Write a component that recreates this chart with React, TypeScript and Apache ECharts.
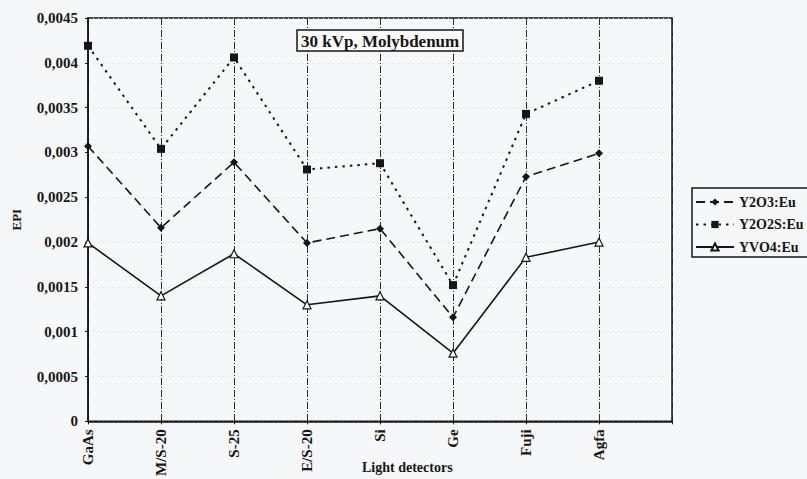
import React, { useEffect, useRef } from "react";
import * as echarts from "echarts";

const categories = ["GaAs", "M/S-20", "S-25", "E/S-20", "Si", "Ge", "Fuji", "Agfa", ""];
const y2o3 = [0.00307, 0.00216, 0.00289, 0.00199, 0.00215, 0.00116, 0.00273, 0.00299];
const y2o2s = [0.00419, 0.00304, 0.00406, 0.00281, 0.00288, 0.00152, 0.00343, 0.0038];
const yvo4 = [0.00199, 0.0014, 0.00187, 0.0013, 0.0014, 0.00076, 0.00183, 0.002];
const seriesNames = ["Y2O3:Eu", "Y2O2S:Eu", "YVO4:Eu"];

const FONT = "'Liberation Serif', 'DejaVu Serif', serif";
const INK = "#161616";

export default function App() {
  const ref = useRef<HTMLDivElement>(null);
  useEffect(() => {
    if (!ref.current) return;
    const chart = echarts.init(ref.current, undefined, { renderer: "svg" });
    chart.setOption({
      animation: false,
      backgroundColor: "#f6f7f9",
      textStyle: { fontFamily: FONT },
      title: {
        text: "30 kVp, Molybdenum",
        left: 297,
        top: 30,
        padding: [3, 4, 1, 4],
        borderColor: INK,
        borderWidth: 1.5,
        backgroundColor: "#fafafa",
        textStyle: { fontFamily: FONT, fontWeight: "bold", fontSize: 17, color: INK },
      },
      legend: {
        orient: "vertical",
        left: 692,
        top: 194,
        padding: [0, 0, 0, 3],
        itemGap: 6.5,
        itemWidth: 38,
        itemHeight: 9,
        data: seriesNames,
        textStyle: { fontFamily: FONT, fontWeight: "bold", fontSize: 14, color: INK, lineHeight: 16 },
      },
      grid: {
        left: 88,
        right: 135,
        top: 18,
        bottom: 57,
        show: true,
        borderColor: INK,
        borderWidth: 1.5,
        backgroundColor: "transparent",
      },
      xAxis: {
        type: "category",
        data: categories,
        boundaryGap: false,
        axisLine: { show: true, lineStyle: { color: INK, width: 1.5 } },
        axisTick: { show: true, length: 3, lineStyle: { color: INK } },
        axisLabel: {
          rotate: 90,
          margin: 8,
          interval: 0,
          fontFamily: FONT,
          fontWeight: "bold",
          fontSize: 15,
          color: INK,
        },
        splitLine: { show: true, interval: 0, lineStyle: { color: "#2a2a2a", width: 1, type: [7, 2, 1, 2] } },
      },
      yAxis: {
        type: "value",
        min: 0,
        max: 0.0045,
        interval: 0.0005,
        name: "EPI",
        nameLocation: "middle",
        nameGap: 65,
        nameTextStyle: { fontFamily: FONT, fontWeight: "bold", fontSize: 13, color: INK },
        axisLine: { show: true, lineStyle: { color: INK, width: 1.5 } },
        axisTick: { show: true, length: 3, lineStyle: { color: INK } },
        axisLabel: {
          margin: 10,
          fontFamily: FONT,
          fontWeight: "bold",
          fontSize: 15,
          color: INK,
          formatter: (v: number) => (v === 0 ? "0" : String(parseFloat(v.toFixed(4))).replace(".", ",")),
        },
        splitLine: { show: true, lineStyle: { color: "#d4d6da", width: 1, type: [1, 4] } },
      },
      graphic: [
        {
          type: "rect",
          shape: { x: 692, y: 188, width: 140, height: 69 },
          style: { fill: "none", stroke: INK, lineWidth: 1.5 },
          silent: true,
        },
        {
          type: "text",
          left: 362,
          top: 460,
          style: { text: "Light detectors", font: `bold 14px ${FONT}`, fill: INK },
        },
      ],
      series: [
        {
          name: seriesNames[0],
          type: "line",
          data: y2o3,
          symbol: "diamond",
          symbolSize: 8,
          itemStyle: { color: INK },
          lineStyle: { color: INK, width: 1.6, type: [9, 5] },
        },
        {
          name: seriesNames[1],
          type: "line",
          data: y2o2s,
          symbol: "rect",
          symbolSize: 8,
          itemStyle: { color: INK },
          lineStyle: { color: INK, width: 2, type: [2.5, 5] },
        },
        {
          name: seriesNames[2],
          type: "line",
          data: yvo4,
          symbol: "triangle",
          symbolSize: 8,
          itemStyle: { color: "#ffffff", borderColor: INK, borderWidth: 1.2 },
          lineStyle: { color: INK, width: 1.6, type: "solid" },
        },
      ],
    });
    return () => chart.dispose();
  }, []);
  return <div ref={ref} style={{ position: "fixed", left: 0, top: 0, width: 807, height: 479 }} />;
}
